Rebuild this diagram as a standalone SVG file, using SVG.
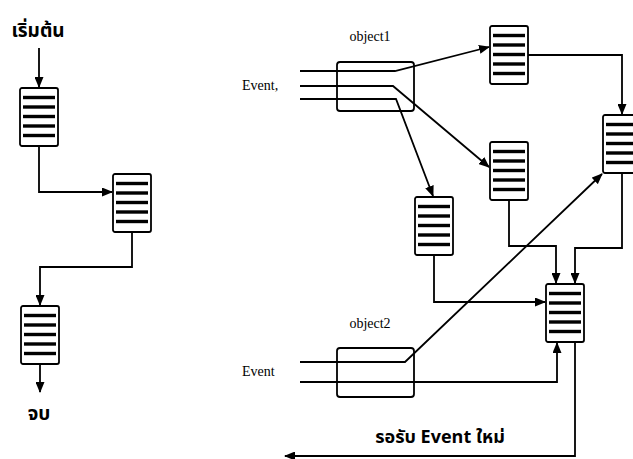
<svg xmlns="http://www.w3.org/2000/svg" width="633" height="459" viewBox="0 0 633 459">
<style>
.bx{fill:#fff;stroke:#000;stroke-width:1.8}
.st{stroke:#000;stroke-width:3.4}
.ln{fill:none;stroke:#000;stroke-width:1.8}
.ob{fill:none;stroke:#000;stroke-width:1.8}
.en{font-family:"Liberation Serif",serif;font-size:14px;fill:#000}
.th{font-family:"Noto Sans Thai","Noto Sans","DejaVu Sans",sans-serif;font-weight:bold;fill:#000}
</style>
<defs>
<marker id="ah" markerWidth="11" markerHeight="9" refX="10" refY="4.5" orient="auto" markerUnits="userSpaceOnUse">
<path d="M0,0 L11,4.5 L0,9 Z" fill="#000"/>
</marker>
<g id="blk">
<rect class="bx" x="0" y="0" width="38" height="58" rx="2"/>
<line class="st" x1="3" y1="9.5" x2="35" y2="9.5"/>
<line class="st" x1="3" y1="19" x2="35" y2="19"/>
<line class="st" x1="3" y1="28.5" x2="35" y2="28.5"/>
<line class="st" x1="3" y1="38" x2="35" y2="38"/>
<line class="st" x1="3" y1="47.5" x2="35" y2="47.5"/>
</g>
</defs>
<rect width="633" height="459" fill="#fff"/>
<g id="connectors">
<path class="ln" d="M39,48 V87" marker-end="url(#ah)"/>
<path class="ln" d="M39,146 V192 H112" marker-end="url(#ah)"/>
<path class="ln" d="M132,232 V267 H40 V305" marker-end="url(#ah)"/>
<path class="ln" d="M40,364 V392" marker-end="url(#ah)"/>
<path class="ln" d="M300,71 H395 L489,47" marker-end="url(#ah)"/>
<path class="ln" d="M300,86 H393 L489,167" marker-end="url(#ah)"/>
<path class="ln" d="M300,99 H396 L433,196" marker-end="url(#ah)"/>
<path class="ln" d="M528,55 H622 V114" marker-end="url(#ah)"/>
<path class="ln" d="M509,198 V246 H556 V283" marker-end="url(#ah)"/>
<path class="ln" d="M622,172 V248 H575 V283" marker-end="url(#ah)"/>
<path class="ln" d="M434,254 V302 H545" marker-end="url(#ah)"/>
<path class="ln" d="M300,362 H405 L602,174" marker-end="url(#ah)"/>
<path class="ln" d="M300,382 H557 V343" marker-end="url(#ah)"/>
<path class="ln" d="M575,342 V456 H285" marker-end="url(#ah)"/>
</g>
<g id="start"><text class="th" x="38" y="37" font-size="19" text-anchor="middle">เริ่มต้น</text></g>
<g id="end"><text class="th" x="39" y="420" font-size="19" text-anchor="middle">จบ</text></g>
<g id="L1"><use href="#blk" x="20" y="88"/></g>
<g id="L2"><use href="#blk" x="113" y="174"/></g>
<g id="L3"><use href="#blk" x="21" y="306"/></g>
<g id="object1">
<rect class="ob" x="337" y="62" width="77" height="49" rx="3"/>
<text class="en" x="370" y="41" text-anchor="middle">object1</text>
<text class="en" x="242" y="90">Event,</text>
</g>
<g id="object2">
<rect class="ob" x="337" y="348" width="77" height="49" rx="3"/>
<text class="en" x="370" y="328" text-anchor="middle">object2</text>
<text class="en" x="242" y="376">Event</text>
</g>
<g id="A"><use href="#blk" x="490" y="26"/></g>
<g id="B"><use href="#blk" x="603" y="115"/></g>
<g id="C"><use href="#blk" x="490" y="142"/></g>
<g id="D"><use href="#blk" x="415" y="197"/></g>
<g id="E"><use href="#blk" x="546" y="284"/></g>
<g id="wait"><text class="th" x="440" y="443" font-size="18" text-anchor="middle">รอรับ Event ใหม่</text></g>
</svg>
